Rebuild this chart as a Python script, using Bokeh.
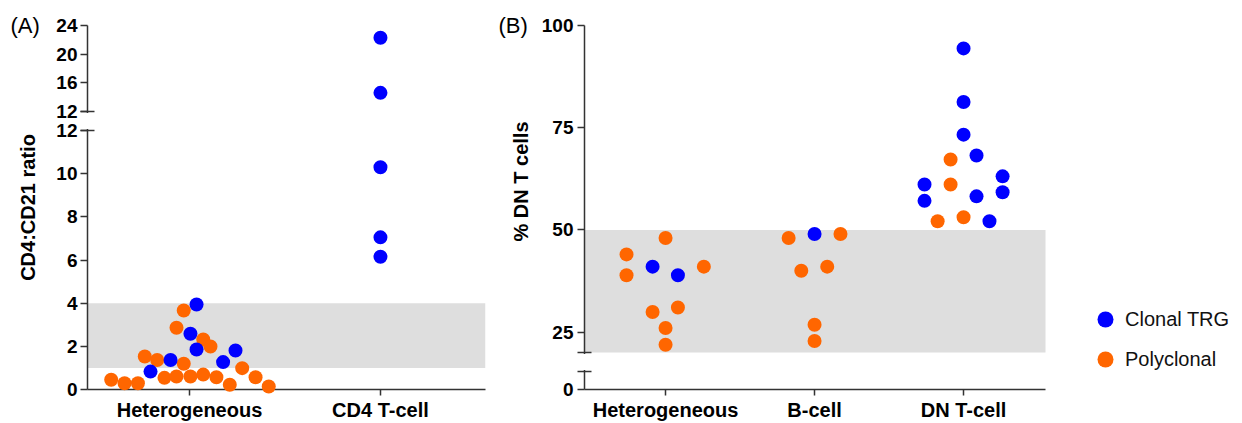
import math
from bokeh.plotting import figure
from bokeh.models import Range1d, FixedTicker, BoxAnnotation, Legend, LegendItem
from bokeh.core.properties import value
from bokeh.layouts import row
from bokeh.embed import file_html
from bokeh.resources import INLINE

# ---------------- data ----------------
# Panel A: CD4:CD21 ratio
a_categories = ["Heterogeneous", "CD4 T-cell"]
a_het_poly = [0.45, 0.29, 0.29, 1.53, 1.37, 0.54, 0.60, 2.86, 3.66, 1.19,
              0.60, 0.69, 2.32, 1.99, 0.57, 0.22, 0.99, 0.57, 0.14]
a_het_poly_dx = [-0.41, -0.34, -0.27, -0.234, -0.169, -0.131, -0.068, -0.068, -0.03, -0.03,
                 0.005, 0.072, 0.072, 0.11, 0.141, 0.211, 0.276, 0.346, 0.415]
a_het_clonal = [0.83, 1.37, 2.58, 3.94, 1.85, 1.27, 1.81]
a_het_clonal_dx = [-0.204, -0.099, 0.005, 0.037, 0.037, 0.176, 0.241]
a_cd4_clonal = [22.3, 14.6, 10.3, 7.05, 6.15]
a_cd4_clonal_dx = [0, 0, 0, 0, 0]
a_ref_band = (1, 4)
a_ticks_top = [12, 16, 20, 24]
a_ticks_bottom = [0, 2, 4, 6, 8, 10, 12]
a_break = 12

# Panel B: % DN T cells
b_categories = ["Heterogeneous", "B-cell", "DN T-cell"]
b_het_poly = [44.0, 38.9, 48.0, 29.9, 31.0, 26.0, 21.9, 41.0]
b_het_poly_dx = [-0.262, -0.262, 0, -0.087, 0.083, 0, 0, 0.257]
b_het_clonal = [41.0, 38.9]
b_het_clonal_dx = [-0.087, 0.083]
b_bcell_poly = [48.0, 49.0, 40.0, 41.0, 26.8, 22.8]
b_bcell_poly_dx = [-0.174, 0.174, -0.089, 0.085, 0, 0]
b_bcell_clonal = [49.0]
b_bcell_clonal_dx = [0]
b_dn_poly = [67.2, 61.1, 52.1, 53.1]
b_dn_poly_dx = [-0.087, -0.087, -0.174, 0]
b_dn_clonal = [94.4, 81.3, 73.3, 68.2, 63.1, 59.2, 61.1, 57.1, 58.2, 52.1]
b_dn_clonal_dx = [0, 0, 0, 0.087, 0.262, 0.262, -0.262, -0.262, 0.087, 0.174]
b_ref_band = (20, 50)
b_ticks_top = [25, 50, 75, 100]
b_ticks_bottom = [0]
b_break_low, b_break_high = 4.4, 20

series_names = ["Clonal TRG", "Polyclonal"]

# ---------------- styles ----------------
FONT = "Liberation Sans"
BLUE = "#0000FF"
ORANGE = "#FF6600"
BAND = "#DEDEDE"
AXIS = "#333333"
DOT = 14
TICK_FS = "19px"
CAT_FS = "20px"
TITLE_FS = "20px"


def style_axis(ax, size, tick_out=7, standoff=3):
    ax.axis_line_color = AXIS
    ax.axis_line_width = 1.5
    ax.major_tick_line_color = AXIS
    ax.major_tick_line_width = 1.5
    ax.major_tick_out = tick_out
    ax.major_tick_in = 0
    ax.minor_tick_line_color = None
    ax.major_label_text_font = FONT
    ax.major_label_text_font_style = "bold"
    ax.major_label_text_font_size = size
    ax.major_label_text_color = "black"
    ax.major_label_standoff = standoff
    ax.axis_label_text_font = FONT
    ax.axis_label_text_font_style = "bold"
    ax.axis_label_text_font_size = TITLE_FS
    ax.axis_label_text_color = "black"


def make_fig(width, height, xr, yr, left, right):
    p = figure(width=width, height=height, x_range=Range1d(*xr), y_range=Range1d(*yr),
               output_backend="svg", toolbar_location=None,
               min_border_left=left, min_border_right=right,
               min_border_top=25, min_border_bottom=34)
    p.outline_line_color = None
    p.grid.visible = False
    return p


def add_break(p, x0, ppu_x, ppu_y, y_low, y_high):
    """White gap over the axis line between y_low and y_high, with caps at both ends."""
    d = 9 / ppu_x
    e = 1.5 / ppu_y
    p.quad(left=[x0 - d], right=[x0 + d], bottom=[y_low + e], top=[y_high - e],
           fill_color="white", line_color=None, level="overlay")
    c = 7 / ppu_x
    p.segment(x0=[x0 - c, x0 - c], y0=[y_low, y_high], x1=[x0 + c, x0 + c], y1=[y_low, y_high],
              line_color=AXIS, line_width=1.5, level="overlay")


def gather(groups, lo, hi):
    xs, ys = [], []
    for idx, vals, dxs in groups:
        for v, dx in zip(vals, dxs):
            if lo <= v <= hi:
                xs.append(idx + dx)
                ys.append(v)
    return xs, ys


def add_points(p, groups, color, lo, hi, range_name="default"):
    xs, ys = gather(groups, lo, hi)
    r = p.scatter(x=xs, y=ys, size=DOT, fill_color=color, line_color=color, line_width=0,
                  y_range_name=range_name)
    r.level = "overlay"
    return r


def fmt(v):
    return str(int(v)) if float(v).is_integer() else str(v)


# ---------------- Panel A ----------------
A_W, A_LEFT, A_FRAME_W, A_FRAME_H = 490, 87, 398, 364
a_xr = (-0.534, 1.550)
a_ppu_x = A_FRAME_W / (a_xr[1] - a_xr[0])
a_low_ppu = 259 / 12          # lower segment: 0 .. 12
a_high_ppu = 86 / 12          # upper segment: 12 .. 24
a_yr = (0, A_FRAME_H / a_low_ppu)
a_top_yr = (24 - A_FRAME_H / a_high_ppu, 24)


def a_top_to_main(v):
    return a_yr[1] - (a_top_yr[1] - v) * a_high_ppu / a_low_ppu


pa = make_fig(A_W, 423, a_xr, a_yr, A_LEFT, A_W - A_LEFT - A_FRAME_W)
pa.extra_y_ranges = {"top": Range1d(*a_top_yr)}

a_tick_pos = [float(t) for t in a_ticks_bottom] + [a_top_to_main(t) for t in a_ticks_top]
a_tick_lab = [fmt(t) for t in a_ticks_bottom] + [fmt(t) for t in a_ticks_top]
ya = pa.yaxis[0]
ya.ticker = FixedTicker(ticks=a_tick_pos)
ya.major_label_overrides = dict(zip(a_tick_pos, a_tick_lab))
ya.axis_label = "CD4:CD21 ratio"
ya.axis_label_standoff = 14
style_axis(ya, TICK_FS)

xa = pa.xaxis[0]
xa.ticker = FixedTicker(ticks=list(range(len(a_categories))))
xa.major_label_overrides = {i: c for i, c in enumerate(a_categories)}
style_axis(xa, CAT_FS, tick_out=6, standoff=3)

pa.add_layout(BoxAnnotation(bottom=a_ref_band[0], top=a_ref_band[1], fill_color=BAND,
                            fill_alpha=1, line_color=None, level="underlay"))

a_poly_groups = [(0, a_het_poly, a_het_poly_dx)]
a_clonal_groups = [(0, a_het_clonal, a_het_clonal_dx), (1, a_cd4_clonal, a_cd4_clonal_dx)]
add_points(pa, a_poly_groups, ORANGE, 0, a_break)
add_points(pa, a_clonal_groups, BLUE, 0, a_break)
add_points(pa, a_poly_groups, ORANGE, a_break + 1e-9, 24, "top")
add_points(pa, a_clonal_groups, BLUE, a_break + 1e-9, 24, "top")

add_break(pa, a_xr[0], a_ppu_x, a_low_ppu, a_break, a_top_to_main(a_break))

pa.text(x=[a_xr[0] - (A_LEFT - 10) / a_ppu_x], y=[24], text=["(A)"], y_range_name="top",
        text_font=value(FONT), text_font_size="22px", text_color="black",
        text_align="left", text_baseline="middle", level="overlay")

# ---------------- Panel B ----------------
B_W, B_LEFT, B_FRAME_H = 752, 94, 364
B_FRAME_W = B_W - B_LEFT - 2
b_x_start, b_x_visible_end = -0.544, 2.550
b_ppu_x = 149
b_xr = (b_x_start, b_x_start + B_FRAME_W / b_ppu_x)
b_ppu = 327 / 80              # same scale for both segments
b_yr = (100 - B_FRAME_H / b_ppu, 100)


def b_low_to_main(v):
    return b_yr[0] + v


pb = make_fig(B_W, 423, b_xr, b_yr, B_LEFT, B_W - B_LEFT - B_FRAME_W)

b_tick_pos = [b_low_to_main(t) for t in b_ticks_bottom] + [float(t) for t in b_ticks_top]
b_tick_lab = [fmt(t) for t in b_ticks_bottom] + [fmt(t) for t in b_ticks_top]
yb = pb.yaxis[0]
yb.ticker = FixedTicker(ticks=b_tick_pos)
yb.major_label_overrides = dict(zip(b_tick_pos, b_tick_lab))
style_axis(yb, TICK_FS, standoff=4)

xb = pb.xaxis[0]
xb.ticker = FixedTicker(ticks=list(range(len(b_categories))))
xb.major_label_overrides = {i: c for i, c in enumerate(b_categories)}
xb.bounds = (b_x_start, b_x_visible_end)
style_axis(xb, CAT_FS, tick_out=6, standoff=3)

pb.add_layout(BoxAnnotation(bottom=b_ref_band[0], top=b_ref_band[1], right=b_x_visible_end,
                            fill_color=BAND, fill_alpha=1, line_color=None, level="underlay"))

b_poly_groups = [(0, b_het_poly, b_het_poly_dx), (1, b_bcell_poly, b_bcell_poly_dx),
                 (2, b_dn_poly, b_dn_poly_dx)]
b_clonal_groups = [(0, b_het_clonal, b_het_clonal_dx), (1, b_bcell_clonal, b_bcell_clonal_dx),
                   (2, b_dn_clonal, b_dn_clonal_dx)]
rb_orange = add_points(pb, b_poly_groups, ORANGE, b_break_high, 100)
rb_blue = add_points(pb, b_clonal_groups, BLUE, b_break_high, 100)

add_break(pb, b_x_start, b_ppu_x, b_ppu, b_low_to_main(b_break_low), b_break_high)

pb.text(x=[b_x_start - (B_LEFT - 8) / b_ppu_x], y=[100], text=["(B)"],
        text_font=value(FONT), text_font_size="22px", text_color="black",
        text_align="left", text_baseline="middle", level="overlay")
# y-axis title of panel B (centred on the upper segment, as in the original)
pb.text(x=[b_x_start - 64 / b_ppu_x], y=[100 - 156 / b_ppu], text=["% DN T cells"],
        angle=math.pi / 2, text_font=value(FONT), text_font_size=TITLE_FS,
        text_font_style="bold", text_color="black",
        text_align="center", text_baseline="middle", level="overlay")

legend = Legend(items=[LegendItem(label=series_names[0], renderers=[rb_blue]),
                       LegendItem(label=series_names[1], renderers=[rb_orange])],
                location=(501, 10), orientation="vertical",
                glyph_width=40, glyph_height=40, spacing=-4, padding=0, margin=0,
                border_line_color=None, background_fill_alpha=0,
                label_text_font=FONT, label_text_font_size="20px", label_text_color="#111111",
                label_standoff=0, label_height=20)
pb.add_layout(legend)

layout = row(pa, pb)
open("out.html", "w").write(file_html(layout, INLINE))
